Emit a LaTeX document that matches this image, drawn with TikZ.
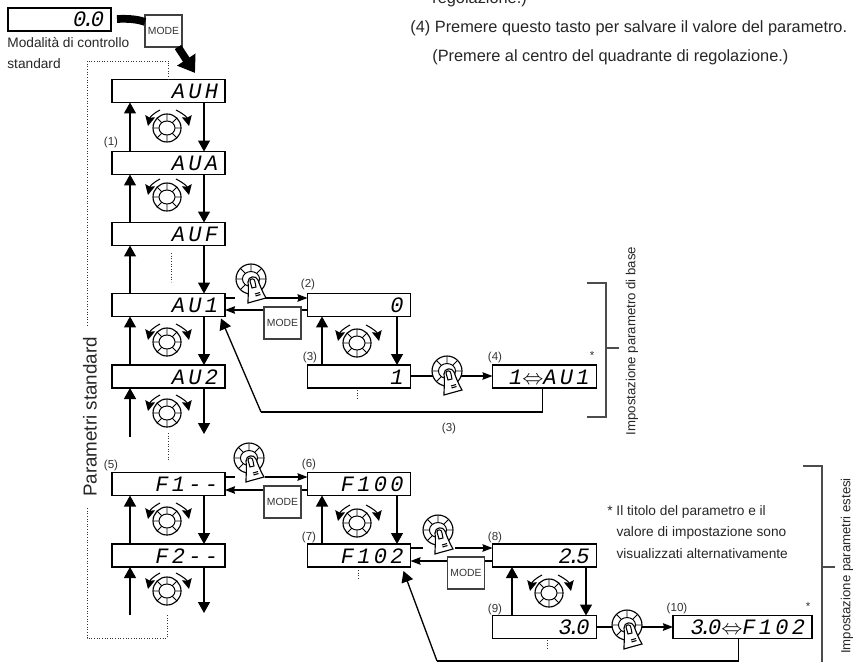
\documentclass[tikz,border=0pt]{standalone}
\usepackage{fontspec}
\setmainfont{Liberation Sans}
\newfontfamily\segfont[LetterSpace=15]{Liberation Mono}
\newcommand{\segdot}{\kern-.2em.\kern-.2em}
\usetikzlibrary{arrows.meta, calc}

\tikzset{
    dispbox/.style={draw, line width=1.1pt, rectangle, inner xsep=.14cm, inner ysep=0pt, outer sep=0pt,
        minimum height=.46cm, text height=.3cm, text depth=0pt, text width=#1, align=right,
        font=\segfont\itshape\fontsize{12.5}{13}\selectfont},
    modebox/.style={draw=black!75, line width=.6pt, fill=white, inner sep=0pt, outer sep=0pt,
        minimum width=.74cm, minimum height=.64cm, font=\fontsize{5.9}{6}\selectfont, text=black!80},
    lbl/.style={inner sep=0pt, font=\fontsize{6.6}{7}\selectfont, text=black!80},
    note/.style={inner sep=0pt, anchor=west, font=\fontsize{7.8}{9}\selectfont, text=black!85},
    longnote/.style={inner sep=0pt, anchor=west, font=\fontsize{9.3}{11}\selectfont, text=black!85},
    sidenote/.style={inner sep=0pt, rotate=90, font=\fontsize{7.5}{9}\selectfont, text=black!85},
    flow/.style={line width=.75pt, ->},
    flowplain/.style={line width=.75pt},
    hflow/.style={line width=.75pt, -{Stealth[length=.2cm,width=.15cm,inset=.02cm]}},
    dotline/.style={densely dotted, line width=.5pt, black!80},
    brk/.style={line width=.7pt, black!70},
    dial/.pic={
        \draw[line width=.65pt, fill=white] (0,0) circle (14);
        \draw[line width=.55pt] (0,0) ellipse (8 and 7);
        \draw[line width=.55pt] (0:8) -- (0:14) (45:7.5) -- (45:14) (90:7) -- (90:14) (135:7.5) -- (135:14)
            (180:8) -- (180:14) (225:7.5) -- (225:14) (270:7) -- (270:14) (315:7.5) -- (315:14);
    },
    turndial/.pic={
        \pic {dial};
        \draw[line width=.6pt, -{Stealth[length=.2cm,width=.2cm,inset=.03cm]}] (-7,-18) .. controls (-13,-15) and (-17,-11) .. (-19,-2);
        \draw[line width=.6pt, -{Stealth[length=.2cm,width=.2cm,inset=.03cm]}] (9,-18) .. controls (15,-15) and (20,-11) .. (22,-2);
    },
    pressdial/.pic={
        \pic[scale=1.07] {dial};
        \draw[line width=.65pt, fill=white] (-3,24) .. controls (-3,16) and (-2,10) .. (-3,3)
            .. controls (-3,-3) and (5,-4) .. (7,1) .. controls (9,7) and (12,14) .. (15,19)
            -- (4,22) -- cycle;
        \draw[line width=.6pt] (-1,2) .. controls (-1,-1) and (4,-1) .. (4,3) -- (5,8) -- (1,9) -- cycle;
        \draw[line width=.6pt] (4,15) -- (9,13.5) (4.5,17) -- (9.5,15.5);
    },
}

\begin{document}
\begin{tikzpicture}[x=.02cm, y=-.02cm, >={Stealth[length=.22cm,width=.24cm,inset=0pt]}]
    \useasboundingbox (0,0) rectangle (854,662);

    % --- Text at the top right ---
    \node[longnote] (noteold) at (432,-1) {regolazione.)};
    \node[longnote] (notepress) at (410,28) {(4) Premere questo tasto per salvare il valore del parametro.};
    \node[longnote] (notecentre) at (432,57) {(Premere al centro del quadrante di regolazione.)};

    % --- Standard control mode ---
    \node[dispbox=1.78cm] (zero) at (59.5,19.5) {0\segdot0};
    \node[modebox] (modetop) at (163.5,31) {MODE};
    \node[note] (ctrlone) at (7,43) {Modalità di controllo};
    \node[note] (ctrltwo) at (7,64) {standard};
    \coordinate (zeroout) at (117,19);
    \coordinate (bigtip) at (195,73);
    \draw[line width=4.4pt] (zeroout) .. controls (127,18.5) and (137,19) .. (modetop.west |- 0,22);
    \draw[line width=4.4pt, -{Triangle[length=.32cm,width=.42cm]}] (178,47) -- (bigtip);

    % --- Left column ---
    \node[dispbox=1.98cm] (auh) at (168.5,91) {AUH};
    \node[dispbox=1.98cm] (aua) at (168.5,163) {AUA};
    \node[dispbox=1.98cm] (auf) at (168.5,234) {AUF};
    \node[dispbox=1.98cm] (aui) at (168.5,305) {AU1};
    \node[dispbox=1.98cm] (auii) at (168.5,376.5) {AU2};
    \node[dispbox=1.98cm] (fone) at (168.5,484) {F1--};
    \node[dispbox=1.98cm] (ftwo) at (168.5,555.5) {F2--};
    \coordinate (upa) at (130,0);
    \coordinate (downa) at (204,0);

    \draw[flow] (aua.north -| upa) -- (auh.south -| upa);
    \draw[flow] (auh.south -| downa) -- (aua.north -| downa);
    \draw[flow] (auf.north -| upa) -- (aua.south -| upa);
    \draw[flow] (aua.south -| downa) -- (auf.north -| downa);
    \draw[flow] (aui.north -| upa) -- (auf.south -| upa);
    \draw[flow] (auf.south -| downa) -- (aui.north -| downa);
    \draw[flow] (auii.north -| upa) -- (aui.south -| upa);
    \draw[flow] (aui.south -| downa) -- (auii.north -| downa);
    \draw[flow] (130,437) -- (auii.south -| upa);
    \draw[flow] (auii.south -| downa) -- (204,434);
    \draw[flow] (ftwo.north -| upa) -- (fone.south -| upa);
    \draw[flow] (fone.south -| downa) -- (ftwo.north -| downa);
    \draw[flow] (130,615) -- (ftwo.south -| upa);
    \draw[flow] (ftwo.south -| downa) -- (204,613);

    \pic at (167,128) {turndial};
    \pic at (167,197) {turndial};
    \pic at (167,342) {turndial};
    \pic at (167,413) {turndial};
    \pic at (167,521) {turndial};
    \pic at (167,591) {turndial};

    \node[lbl] (lblone) at (111,142) {(1)};
    \node[lbl] (lblfive) at (111,465) {(5)};

    % --- Basic parameter setting ---
    \node[dispbox=1.78cm] (basezero) at (359,305) {0};
    \node[dispbox=1.78cm] (baseone) at (359,376.5) {1};
    \node[dispbox=1.80cm] (basefour) at (544.5,376.5) {1$\Leftrightarrow$AU1};
    \coordinate (upb) at (322,0);
    \coordinate (downb) at (397,0);
    \coordinate (pressa) at (251,279);
    \coordinate (pressb) at (447,371);

    \draw[flowplain] (aui.east |- 0,298) -- (235,298);
    \draw[hflow] ($(pressa)+(14,19)$) -- (basezero.west |- 0,298);
    \draw[hflow] (basezero.west |- 0,310) -- (aui.east |- 0,310);
    \draw[flow] (baseone.north -| upb) -- (basezero.south -| upb);
    \draw[flow] (basezero.south -| downb) -- (baseone.north -| downb);
    \draw[hflow] (baseone.east |- 0,376) -- (basefour.west |- 0,376);
    \draw[flowplain] ($(basefour.south)+(-2,0)$) -- (542.5,412) -- (261,412);
    \draw[flow] (261,412) -- ($(aui.south east)+(-4,2)$);

    \pic at (357,343) {turndial};
    \pic at (pressa) {pressdial};
    \pic at (pressb) {pressdial};
    \node[modebox] (modea) at (282.5,323) {MODE};

    \node[lbl] (lbltwo) at (308,284) {(2)};
    \node[lbl] (lblthree) at (310,357) {(3)};
    \node[lbl] (lblfour) at (495,357) {(4)};
    \node[lbl] (lblstara) at (592,356) {*};
    \node[lbl] (lblback) at (449,428) {(3)};

    \draw[brk] (587,283) -- (606,283) -- (606,417) -- (587,417);
    \draw[brk] (606,348) -- (619,348);
    \node[sidenote] (sidebase) at (632,341) {Impostazione parametro di base};

    % --- Extended parameter setting ---
    \node[dispbox=1.78cm] (fhundred) at (359,484) {F100};
    \node[dispbox=1.78cm] (fdue) at (359,555.5) {F102};
    \node[dispbox=1.80cm] (ext) at (544.5,555.5) {2\segdot5};
    \node[dispbox=1.80cm] (extnew) at (544.5,627) {3\segdot0};
    \node[dispbox=2.50cm] (extten) at (742.5,627) {3\segdot0$\Leftrightarrow$F102};
    \coordinate (upc) at (512,0);
    \coordinate (downc) at (586,0);
    \coordinate (pressc) at (249,458);
    \coordinate (pressd) at (438,530);
    \coordinate (presse) at (627,625);

    \draw[flowplain] (fone.east |- 0,477) -- (235,477);
    \draw[hflow] ($(pressc)+(16,19)$) -- (fhundred.west |- 0,477);
    \draw[hflow] (fhundred.west |- 0,490) -- (fone.east |- 0,490);
    \draw[flow] (fdue.north -| upb) -- (fhundred.south -| upb);
    \draw[flow] (fhundred.south -| downb) -- (fdue.north -| downb);
    \draw[flowplain] (fdue.east |- 0,548) -- (423,548);
    \draw[hflow] ($(pressd)+(17,18)$) -- (ext.west |- 0,548);
    \draw[hflow] (ext.west |- 0,561) -- (fdue.east |- 0,561);
    \draw[flow] (extnew.north -| upc) -- (ext.south -| upc);
    \draw[flow] (ext.south -| downc) -- (extnew.north -| downc);
    \draw[hflow] (extnew.east |- 0,627) -- (extten.west |- 0,627);
    \draw[flowplain] ($(extten.south)+(-4,0)$) -- (738.5,661) -- (437,661);
    \draw[flow] (437,661) -- ($(fdue.south east)+(-7,4)$);

    \pic at (357,523) {turndial};
    \pic at (549,593) {turndial};
    \pic at (pressc) {pressdial};
    \pic at (pressd) {pressdial};
    \pic at (presse) {pressdial};
    \node[modebox] (modeb) at (282.5,502) {MODE};
    \node[modebox] (modec) at (466,573) {MODE};

    \node[lbl] (lblsix) at (309,464) {(6)};
    \node[lbl] (lblseven) at (309,537) {(7)};
    \node[lbl] (lbleight) at (495,537) {(8)};
    \node[lbl] (lblnine) at (495,609) {(9)};
    \node[lbl] (lblten) at (677,608) {(10)};
    \node[lbl] (lblstarb) at (808,607) {*};

    \node[note, align=left, anchor=north west, font=\fontsize{7.8}{12.2}\selectfont] (altnote) at (607,505)
        {* Il titolo del parametro e il\\\phantom{* }valore di impostazione sono\\\phantom{* }visualizzati alternativamente};

    \draw[brk] (803,466) -- (822,466) -- (822,662);
    \draw[brk] (822,567) -- (835,567);
    \node[sidenote] (sideext) at (847,566) {Impostazione parametri estesi};

    % --- Dotted return of the standard parameters ---
    \node[inner sep=0pt, rotate=90, font=\fontsize{10.7}{12}\selectfont, text=black!85] (paramstd) at (90,417) {Parametri standard};
    \coordinate (dottop) at (87,61);
    \coordinate (dotbottom) at (87,638);
    \draw[dotline] (auh.north) |- (dottop) -- (87,327);
    \draw[dotline] (87,508) -- (dotbottom) -| (167,614);
    \draw[dotline] (171,253) -- (171,282);
    \draw[dotline] (168,433) -- (168,460);
    \draw[dotline] (357,390) -- (357,398);
    \draw[dotline] (358,570) -- (358,578);
    \draw[dotline] (547,640) -- (547,650);

\end{tikzpicture}
\end{document}
